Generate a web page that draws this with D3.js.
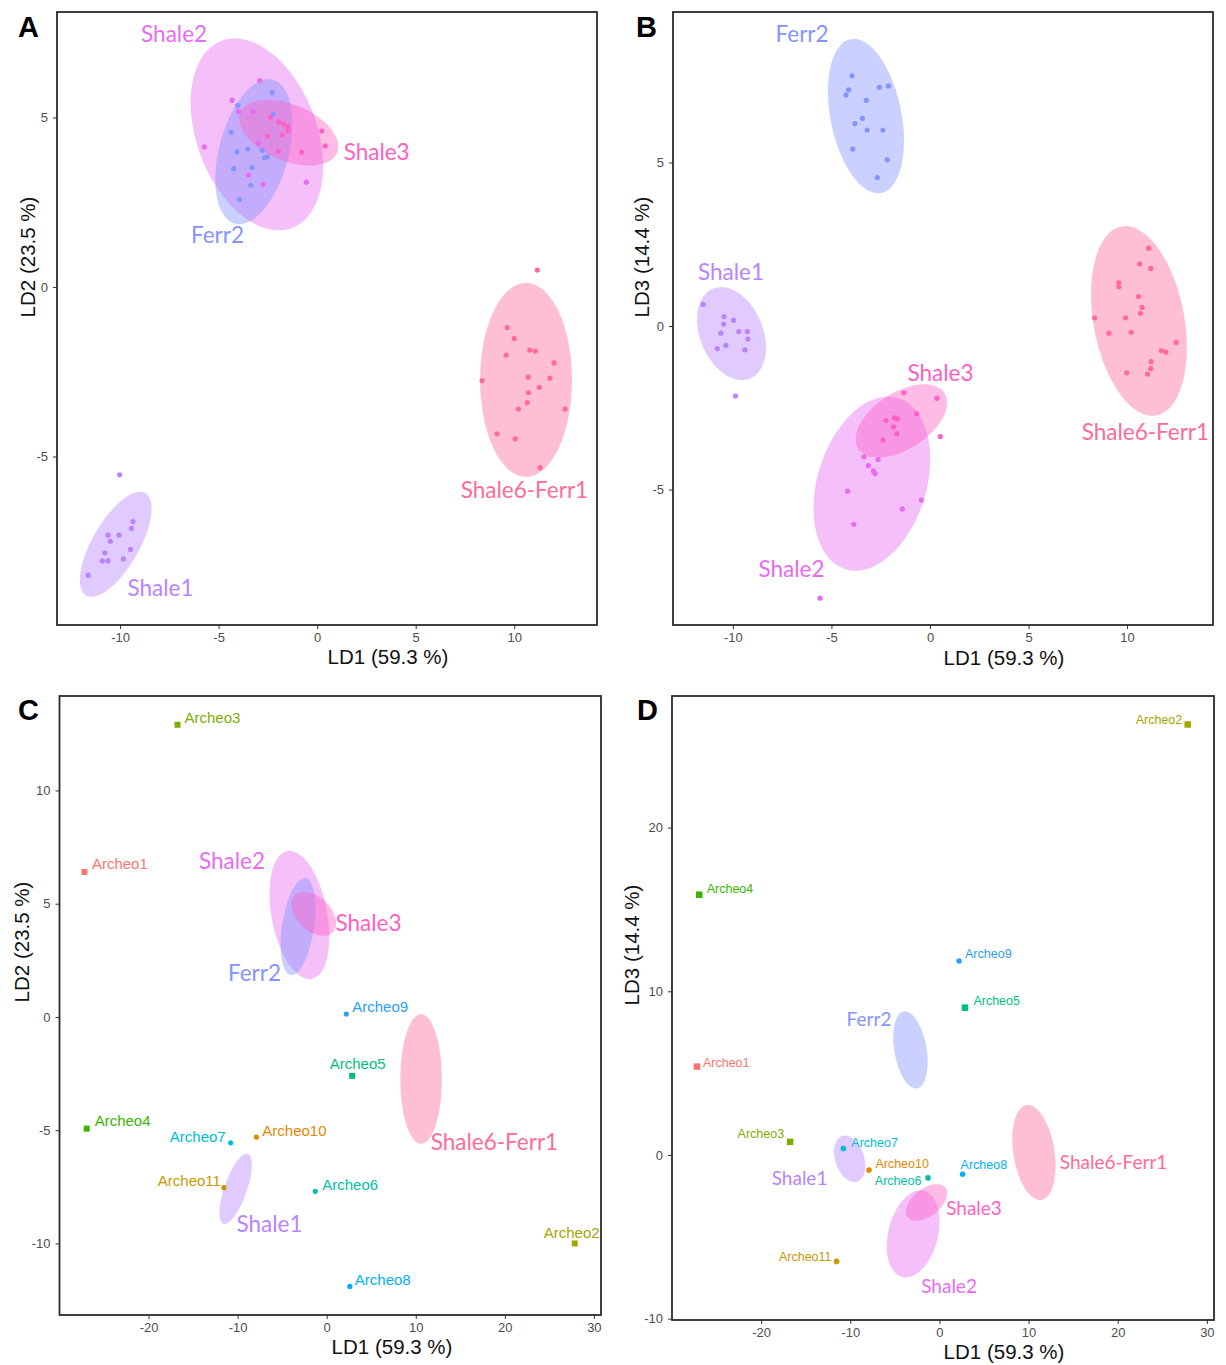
<!DOCTYPE html>
<html>
<head>
<meta charset="utf-8">
<script src="https://cdn.jsdelivr.net/npm/d3@7"></script>
<style>
body { margin: 0; background: #fff; }
.tick text { font-family: "Liberation Sans", Arial, sans-serif; fill: #4d4d4d; font-size: 13px; }
.tick line { stroke: #333; stroke-width: 1; }
</style>
</head>
<body>
<script>
// ---- data ----
// group samples, LD1/LD2 (panel A)
var ferr2LD12  = [[-2.28,5.73],[-4.03,5.35],[-2.23,5.10],[-4.37,4.56],[-3.52,4.07],[-4.07,3.99],[-2.79,4.03],[-2.52,3.84],[-2.67,3.81],[-4.23,3.49],[-3.30,3.52],[-3.37,3.00],[-3.93,2.58]];
var shale1LD12 = [[-10.02,-5.54],[-9.35,-6.92],[-9.42,-7.12],[-10.61,-7.32],[-10.05,-7.32],[-10.49,-7.50],[-9.47,-7.74],[-10.77,-7.84],[-9.83,-8.02],[-10.90,-8.08],[-10.61,-8.08],[-11.62,-8.50]];
var shale2LD12 = [[-2.91,6.09],[-4.32,5.51],[-3.98,5.17],[-3.25,5.17],[-5.73,4.13],[-2.99,4.24],[-3.47,3.30],[-2.74,3.03],[-0.55,3.09]];
var shale3LD12 = [[-2.36,5.01],[-1.94,4.86],[-1.68,4.81],[-1.49,4.73],[-1.48,4.61],[0.24,4.60],[-1.77,4.48],[-2.52,4.45],[0.41,4.16],[-1.97,4.01],[-0.78,3.97]];
var shale6LD12 = [[11.17,0.50],[9.64,-1.20],[10.00,-1.52],[9.59,-2.01],[10.79,-1.86],[11.07,-1.89],[12.02,-2.24],[8.37,-2.76],[10.71,-2.66],[11.81,-2.69],[11.27,-2.96],[10.73,-3.12],[10.66,-3.41],[10.21,-3.60],[12.58,-3.60],[9.13,-4.33],[10.05,-4.48],[11.31,-5.33]];

// group samples, LD1/LD3 (panel B)
var ferr2LD13  = [[-3.96,7.65],[-4.13,7.22],[-4.26,7.06],[-2.57,7.30],[-2.11,7.34],[-3.23,6.90],[-3.43,6.35],[-3.81,6.19],[-3.19,5.99],[-2.39,5.99],[-3.92,5.41],[-2.17,5.08],[-2.67,4.54]];
var shale1LD13 = [[-11.51,0.66],[-10.45,0.29],[-10.47,0.06],[-9.97,0.18],[-10.61,-0.22],[-9.70,-0.17],[-9.27,-0.17],[-9.24,-0.40],[-10.36,-0.59],[-10.79,-0.69],[-9.39,-0.73],[-9.87,-2.14]];
var shale2LD13 = [[-3.35,-4.00],[-2.63,-4.08],[-3.13,-4.27],[-2.87,-4.43],[-2.79,-4.51],[-4.18,-5.05],[-0.44,-5.32],[-1.41,-5.59],[-3.87,-6.06],[-5.58,-8.32]];
var shale3LD13 = [[-1.33,-2.04],[0.35,-2.21],[-0.68,-2.68],[-2.23,-2.89],[-1.81,-2.81],[-1.65,-2.84],[-1.85,-3.08],[-1.68,-3.29],[-2.39,-3.49],[0.52,-3.38]];
var shale6LD13 = [[11.10,2.38],[10.64,1.90],[11.20,1.76],[9.58,1.32],[9.58,1.20],[10.58,0.90],[10.76,0.57],[10.68,0.39],[8.35,0.25],[9.92,0.25],[9.08,-0.22],[10.20,-0.19],[12.49,-0.50],[11.74,-0.75],[11.97,-0.80],[11.22,-1.09],[11.20,-1.30],[9.98,-1.43],[11.04,-1.47]];

// ellipse (centre, half-range, correlation) per group
var groups = ["Shale2", "Ferr2", "Shale3", "Shale1", "Shale6-Ferr1"];
var ellLD1a = {"Shale2":[-3.06,3.36], "Ferr2":[-3.21,1.96], "Shale3":[-1.44,2.51], "Shale1":[-10.22,1.82], "Shale6-Ferr1":[10.60,2.33]};
var ellLD2  = {"Shale2":[4.50,2.83,-0.33], "Ferr2":[3.99,2.14,0.38], "Shale3":[4.55,0.97,-0.42], "Shale1":[-7.59,1.55,0.68], "Shale6-Ferr1":[-2.74,2.86,0.0]};
var ellLD1b = {"Shale2":[-2.95,2.96], "Ferr2":[-3.25,1.93], "Shale3":[-1.45,2.32], "Shale1":[-10.07,1.75], "Shale6-Ferr1":[10.60,2.43]};
var ellLD3  = {"Shale2":[-4.82,2.66,0.28], "Ferr2":[6.42,2.36,-0.32], "Shale3":[-2.90,1.12,0.50], "Shale1":[-0.23,1.42,-0.30], "Shale6-Ferr1":[0.155,2.90,-0.28]};

// archaeological samples
var archeoNames = ["Archeo1","Archeo2","Archeo3","Archeo4","Archeo5","Archeo6","Archeo7","Archeo8","Archeo9","Archeo10","Archeo11"];
var archeoLD1 = [-27.2, 27.85, -16.75, -26.95, 2.86, -1.28, -10.78, 2.6, 2.2, -7.9, -11.54];
var archeoLD2 = [6.4, -10.0, 12.9, -4.93, -2.6, -7.7, -5.56, -11.9, 0.13, -5.31, -7.54];
var archeoLD3 = [5.4, 26.3, 0.8, 15.9, 9.0, -1.4, 0.4, -1.18, 11.85, -0.92, -6.5];

// tick values
var ticksLD1ab = [-10, -5, 0, 5, 10];
var ticksLD1cd = [-20, -10, 0, 10, 20, 30];
var ticksA = [-5, 0, 5], ticksB = [-5, 0, 5], ticksC = [-10, -5, 0, 5, 10], ticksD = [-10, 0, 10, 20];

// ---- styles ----
var groupColor = {"Ferr2":"#8494ff", "Shale1":"#b983ff", "Shale2":"#e76bf3", "Shale3":"#fd61c4", "Shale6-Ferr1":"#ff6a98"};
var archeoColor = {"Archeo1":"#f8766d","Archeo10":"#e58700","Archeo11":"#c99800","Archeo2":"#a3a500","Archeo3":"#7cae00",
  "Archeo4":"#39b600","Archeo5":"#00bf7d","Archeo6":"#00bfa5","Archeo7":"#00bcd8","Archeo8":"#00b0f6","Archeo9":"#2ba0f5"};
var squareMarked = ["Archeo1","Archeo2","Archeo3","Archeo4","Archeo5"];

// label placement [anchor, dx, dy] around each archeo point
var archeoLabC = {Archeo1:["start",7.5,-8], Archeo2:["middle",-3,-11], Archeo3:["start",7,-7], Archeo4:["start",8,-8],
  Archeo5:["middle",5.5,-12], Archeo6:["start",7,-7], Archeo7:["end",-5,-6], Archeo8:["start",5,-7],
  Archeo9:["start",6,-7], Archeo10:["start",6,-6], Archeo11:["end",-3,-7]};
var archeoLabD = {Archeo1:["start",6,-4], Archeo2:["end",-5.5,-5], Archeo3:["end",-6,-8], Archeo4:["start",7.5,-6],
  Archeo5:["start",8.5,-7.5], Archeo6:["end",-6.6,3], Archeo7:["start",8,-6], Archeo8:["start",-2,-10],
  Archeo9:["start",6,-7.5], Archeo10:["start",6.4,-6.7], Archeo11:["end",-5,-5]};

// group label positions in data units
var groupLabA = {"Shale2":[-7.26,7.46], "Shale3":[3.02,3.98], "Ferr2":[-5.06,1.53], "Shale6-Ferr1":[10.52,-5.99], "Shale1":[-7.95,-8.88]};
var groupLabB = {"Ferr2":[-6.49,8.93], "Shale1":[-10.1,1.65], "Shale3":[0.53,-1.44], "Shale6-Ferr1":[10.93,-3.24], "Shale2":[-7.03,-7.43]};
var groupLabC = {"Shale2":[-10.63,6.89], "Shale3":[4.69,4.15], "Ferr2":[-8.11,1.94], "Shale6-Ferr1":[18.84,-5.52], "Shale1":[-6.42,-9.14]};
var groupLabD = {"Ferr2":[-7.9,8.31], "Shale1":[-15.69,-1.41], "Shale6-Ferr1":[19.53,-0.43], "Shale3":[3.88,-3.24], "Shale2":[1.08,-8.0]};

var pointsLD12 = {"Ferr2":ferr2LD12, "Shale1":shale1LD12, "Shale2":shale2LD12, "Shale3":shale3LD12, "Shale6-Ferr1":shale6LD12};
var pointsLD13 = {"Ferr2":ferr2LD13, "Shale1":shale1LD13, "Shale2":shale2LD13, "Shale3":shale3LD13, "Shale6-Ferr1":shale6LD13};

var panels = [
  {id:"A", x0:57, x1:597, y0:12, y1:625, xDom:[-13.2,14.2], yDom:[-9.97,8.11], xt:ticksLD1ab, yt:ticksA,
   ex:ellLD1a, ey:ellLD2, pts:pointsLD12, glab:groupLabA, gsize:22.5, yTitle:"LD2 (23.5 %)",
   letter:[18,37], xTitle:[388,657], yTitleAt:[28,257]},
  {id:"B", x0:673, x1:1213, y0:12, y1:625, xDom:[-13.04,14.36], yDom:[-9.14,9.6], xt:ticksLD1ab, yt:ticksB,
   ex:ellLD1b, ey:ellLD3, pts:pointsLD13, glab:groupLabB, gsize:22.5, yTitle:"LD3 (14.4 %)",
   letter:[636,37], xTitle:[1004,658], yTitleAt:[642,257]},
  {id:"C", x0:59.5, x1:601, y0:696, y1:1315, xDom:[-30,30.8], yDom:[-13.16,14.17], xt:ticksLD1cd, yt:ticksC,
   ex:ellLD1a, ey:ellLD2, arch:archeoLD2, alab:archeoLabC, asize:15, sq:6, cr:2.6, glab:groupLabC, gsize:22.5, yTitle:"LD2 (23.5 %)",
   letter:[18,720], xTitle:[392,1347], yTitleAt:[22,942]},
  {id:"D", x0:672, x1:1214, y0:696, y1:1320, xDom:[-30,30.8], yDom:[-10.08,28.04], xt:ticksLD1cd, yt:ticksD,
   ex:ellLD1b, ey:ellLD3, arch:archeoLD3, alab:archeoLabD, asize:12.5, sq:6.5, cr:2.8, glab:groupLabD, gsize:19, yTitle:"LD3 (14.4 %)",
   letter:[637,720], xTitle:[1004,1352], yTitleAt:[632,945]}
];

var svg = d3.select("body").append("svg")
  .attr("width", 1226).attr("height", 1365);

function ellipsePoints(ex, ey) {
  var pts = [], k = Math.sqrt(1 - ey[2] * ey[2]);
  for (var i = 0; i < 120; i++) {
    var t = 2 * Math.PI * i / 120;
    pts.push([ex[0] + ex[1] * Math.cos(t), ey[0] + ey[1] * (ey[2] * Math.cos(t) + k * Math.sin(t))]);
  }
  return pts;
}

panels.forEach(function(p) {
  var x = d3.scaleLinear().domain(p.xDom).range([p.x0, p.x1]);
  var y = d3.scaleLinear().domain(p.yDom).range([p.y1, p.y0]);
  var g = svg.append("g");

  g.append("clipPath").attr("id", "clip" + p.id)
    .append("rect").attr("x", p.x0).attr("y", p.y0)
    .attr("width", p.x1 - p.x0).attr("height", p.y1 - p.y0);
  var plot = g.append("g").attr("clip-path", "url(#clip" + p.id + ")");

  var line = d3.line().x(function(d) { return x(d[0]); }).y(function(d) { return y(d[1]); })
    .curve(d3.curveLinearClosed);

  // ellipses
  groups.forEach(function(gr) {
    plot.append("path")
      .attr("d", line(ellipsePoints(p.ex[gr], p.ey[gr])))
      .attr("fill", groupColor[gr])
      .attr("fill-opacity", 0.43);
  });

  // group points (A, B)
  if (p.pts) {
    groups.forEach(function(gr) {
      plot.selectAll(null).data(p.pts[gr]).enter().append("circle")
        .attr("cx", function(d) { return x(d[0]); })
        .attr("cy", function(d) { return y(d[1]); })
        .attr("r", 2.6)
        .attr("fill", groupColor[gr]);
    });
  }

  // group labels
  Object.keys(p.glab).forEach(function(gr) {
    g.append("text")
      .attr("x", x(p.glab[gr][0])).attr("y", y(p.glab[gr][1]))
      .attr("dy", "0.35em")
      .attr("text-anchor", "middle")
      .style("font-family", "Lato, 'Open Sans', sans-serif")
      .style("font-size", p.gsize + "px")
      .attr("fill", groupColor[gr])
      .text(gr);
  });

  // archaeological samples (C, D)
  if (p.arch) {
    archeoNames.forEach(function(nm, i) {
      var px = x(archeoLD1[i]), py = y(p.arch[i]);
      if (squareMarked.indexOf(nm) >= 0) {
        g.append("rect")
          .attr("x", px - p.sq / 2).attr("y", py - p.sq / 2)
          .attr("width", p.sq).attr("height", p.sq)
          .attr("fill", archeoColor[nm]);
      } else {
        g.append("circle").attr("cx", px).attr("cy", py).attr("r", p.cr)
          .attr("fill", archeoColor[nm]);
      }
      var lp = p.alab[nm];
      g.append("text")
        .attr("x", px + lp[1]).attr("y", py + lp[2])
        .attr("dy", "0.35em")
        .attr("text-anchor", lp[0])
        .style("font-family", "'Liberation Sans', Arial, sans-serif")
        .style("font-size", p.asize + "px")
        .attr("fill", archeoColor[nm])
        .text(nm);
    });
  }

  // axes
  var fmt = function(d) { return String(d); };
  var xa = g.append("g").attr("transform", "translate(0," + p.y1 + ")")
    .call(d3.axisBottom(x).tickValues(p.xt).tickSize(4).tickPadding(4).tickFormat(fmt));
  var ya = g.append("g").attr("transform", "translate(" + p.x0 + ",0)")
    .call(d3.axisLeft(y).tickValues(p.yt).tickSize(4).tickPadding(5).tickFormat(fmt));
  xa.select(".domain").remove();
  ya.select(".domain").remove();

  // panel frame
  g.append("rect")
    .attr("x", p.x0).attr("y", p.y0)
    .attr("width", p.x1 - p.x0).attr("height", p.y1 - p.y0)
    .attr("fill", "none").attr("stroke", "#2b2b2b").attr("stroke-width", 1.8);

  // titles
  g.append("text")
    .attr("x", p.xTitle[0]).attr("y", p.xTitle[1]).attr("dy", "0.35em")
    .attr("text-anchor", "middle")
    .style("font-family", "'Liberation Sans', Arial, sans-serif")
    .style("font-size", "20.5px").attr("fill", "#111")
    .text("LD1 (59.3 %)");
  g.append("text")
    .attr("transform", "translate(" + p.yTitleAt[0] + "," + p.yTitleAt[1] + ") rotate(-90)")
    .attr("dy", "0.35em")
    .attr("text-anchor", "middle")
    .style("font-family", "'Liberation Sans', Arial, sans-serif")
    .style("font-size", "20.5px").attr("fill", "#111")
    .text(p.yTitle);
  g.append("text")
    .attr("x", p.letter[0]).attr("y", p.letter[1])
    .style("font-family", "'Liberation Sans', Arial, sans-serif")
    .style("font-size", "29px").style("font-weight", "bold").attr("fill", "#000")
    .text(p.id);
});
</script>
</body>
</html>
